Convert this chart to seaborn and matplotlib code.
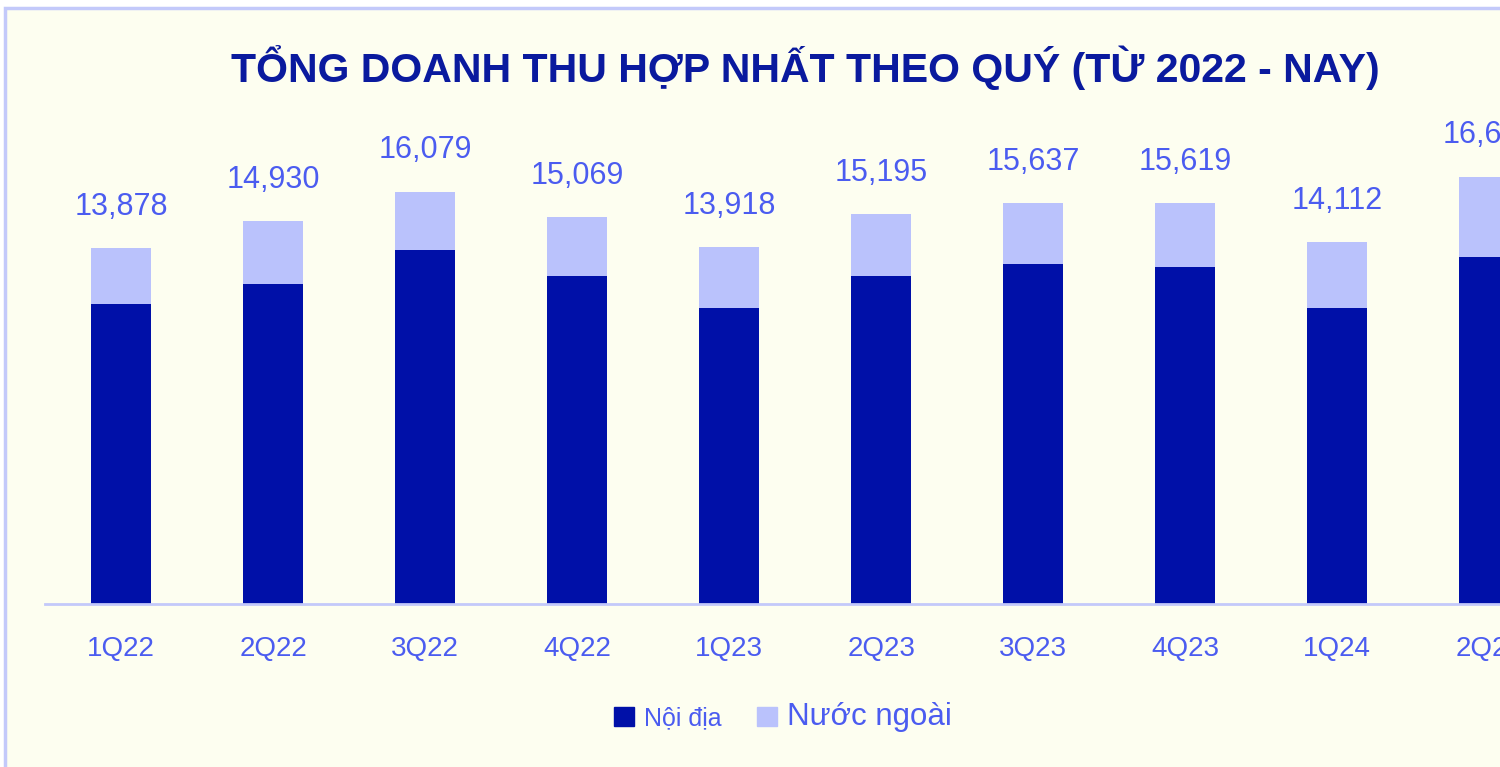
import matplotlib
matplotlib.use('Agg')
import matplotlib.pyplot as plt
from matplotlib.patches import Rectangle
import seaborn as sns

#---------------------------------------------------------
quarters=['1Q22', '2Q22', '3Q22', '4Q22', '1Q23', '2Q23', '3Q23', '4Q23', '1Q24', '2Q24']
total=[13878, 14930, 16079, 15069, 13918, 15195, 15637, 15619, 14112, 16656]
domestic=[11700, 12480, 13800, 12790, 11540, 12790, 13250, 13140, 11540, 13530]
foreign=[t-d for t, d in zip(total, domestic)]
series=['Nội địa', 'Nước ngoài']
title='TỔNG DOANH THU HỢP NHẤT THEO QUÝ (TỪ 2022 - NAY)'

c_dark='#0010a8'
c_light='#bac2fc'
c_lbl='#4b5cf0'
c_title='#0a1a9e'
c_bg='#fdfef0'
c_line='#c3c9fa'

#--------------------------------------------------------
sns.set_style('white')
plt.rcParams['font.family']=['Liberation Sans', 'DejaVu Sans']

fig=plt.figure(figsize=(15, 7.67), dpi=100)
fig.patch.set_facecolor('white')
bg=Rectangle((5/1500, -0.1), 1.2, 1.1-8/767, transform=fig.transFigure,
	facecolor=c_bg, edgecolor=c_line, linewidth=2.5, zorder=-10)
fig.patches.append(bg)

ax=fig.add_axes([45/1500, 163/767, 1-45/1500, (604-130)/767])
ax.set_facecolor('none')
ax.set_zorder(5)

#plot: full stack in light colour, domestic drawn on top
sns.barplot(x=quarters, y=total, color=c_light, saturation=1, width=0.395, linewidth=0, ax=ax, order=quarters)
sns.barplot(x=quarters, y=domestic, color=c_dark, saturation=1, width=0.395, linewidth=0, ax=ax, order=quarters)

for i, t in enumerate(total):
	ax.annotate(f'{t:,}', xy=(i, t), xytext=(0, 19), textcoords='offset points',
		ha='center', va='bottom', fontsize=22, color=c_lbl, annotation_clip=False)

#adjust
ax.set_xlim(-0.5, 9.07)
ax.set_ylim(0, 18480)
ax.set_yticks([])
ax.set_xlabel('')
ax.set_ylabel('')
for s in ['top', 'right', 'left']:
	ax.spines[s].set_visible(False)
ax.spines['bottom'].set_color(c_line)
ax.spines['bottom'].set_linewidth(2)
ax.tick_params(axis='x', length=0, pad=23, labelsize=20, labelcolor=c_lbl)

fig.text(805/1500, 1-68/767, title, ha='center', va='center', fontsize=29.5,
	fontweight='bold', color=c_title)

handles=[Rectangle((0, 0), 1, 1, color=c_dark), Rectangle((0, 0), 1, 1, color=c_light)]
leg=fig.legend(handles, series, loc='center', bbox_to_anchor=(783/1500, 1-717/767), ncol=2,
	frameon=False, handlelength=0.8, handleheight=0.8, handletextpad=0.4, columnspacing=1.4,
	fontsize=18)
txts=leg.get_texts()
txts[0].set_fontsize(18)
txts[1].set_fontsize(22.5)
for t in txts:
	t.set_color(c_lbl)

plt.savefig('out.png', dpi=100, facecolor=fig.get_facecolor())
plt.close()
